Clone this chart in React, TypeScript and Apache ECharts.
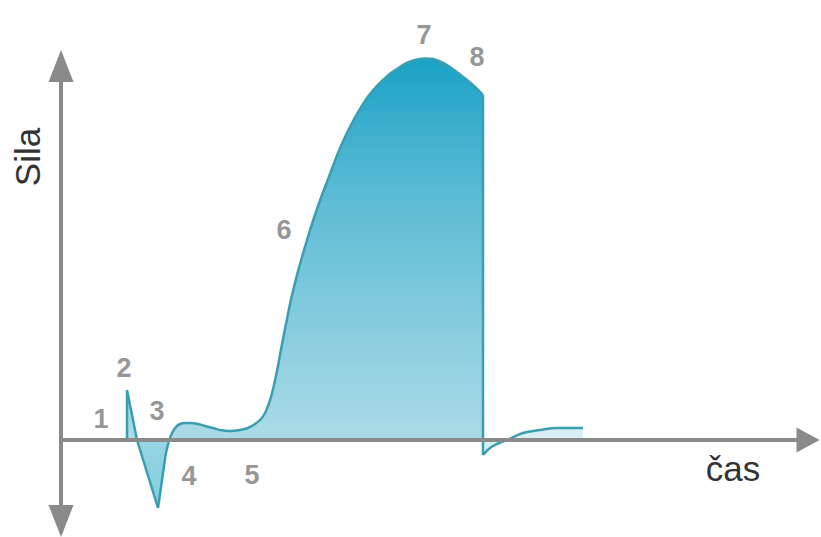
import React, { useEffect, useRef } from "react";
import * as echarts from "echarts";

// Phase curve (time units on x, force units on y; baseline force = 0)
const spikeX = [66, 66, 76, 97];
const spikeY = [0, 50, 0, -68];
const riseX = [97, 99, 101, 103, 105, 108, 111, 115, 119, 124, 129, 137, 144, 152, 159, 169, 179, 187, 194, 200, 204, 207, 210, 213, 216, 219, 222, 226, 229, 232, 236, 241, 246, 251, 256, 261, 266, 272, 277, 284, 291, 299, 306, 314, 322, 330, 339, 347, 356, 364, 372, 380, 389, 397, 406, 414, 422];
const riseY = [-68, -54, -40, -26, -13, -1, 7, 13, 16, 17, 17, 16, 14, 12, 10, 9, 10, 12, 16, 21, 27, 34, 43, 55, 69, 85, 101, 121, 136, 149, 165, 183, 200, 216, 231, 245, 258, 274, 287, 303, 317, 331, 342, 352, 360, 367, 373, 377.5, 380.5, 381.5, 381, 378, 373, 367, 360, 353, 345];
const dropX = [422, 422];
const dropY = [345, -15];
const recoveryX = [422, 429, 436, 446, 462, 479, 496, 522];
const recoveryY = [-15, -8, -4, 0, 7, 10, 12, 12];

// Phase number annotations
const phaseLabels = ["1", "2", "3", "4", "5", "6", "7", "8"];
const phaseX = [40, 63, 96, 128, 191, 223, 363, 416];
const phaseY = [21, 72, 29, -36, -35, 210, 405, 383];

const yAxisName = "Sila";
const xAxisName = "čas";

const zip = (xs: number[], ys: number[]) => xs.map((x, i) => [x, ys[i]]);

export default function App() {
  const ref = useRef<HTMLDivElement>(null);
  useEffect(() => {
    if (!ref.current) return;
    const chart = echarts.init(ref.current, null, { renderer: "svg" });
    const lineColor = "#3a9eb0";
    const mainFill = {
      type: "linear",
      x: 0,
      y: 58,
      x2: 0,
      y2: 510,
      global: true,
      colorStops: [
        { offset: 0, color: "#1aa2c6" },
        { offset: 0.3, color: "#5bbbd4" },
        { offset: 0.84, color: "#acdbe7" },
        { offset: 0.85, color: "#98d5e4" },
        { offset: 1, color: "#7fcde0" },
      ],
    };
    const font = "'Liberation Sans', Arial, sans-serif";
    const lineBase = {
      type: "line",
      symbol: "none",
      clip: false,
      lineStyle: { color: lineColor, width: 2.5 },
      z: 3,
    };
    chart.setOption({
      animation: false,
      backgroundColor: "#ffffff",
      grid: { left: 61, right: 13, top: 66, bottom: 16 },
      xAxis: {
        type: "value",
        min: 0,
        max: 747,
        z: 5,
        axisLine: {
          show: true,
          onZero: true,
          symbol: ["none", "triangle"],
          symbolSize: [25, 23],
          lineStyle: { color: "#8a8a8a", width: 4 },
        },
        axisTick: { show: false },
        axisLabel: { show: false },
        splitLine: { show: false },
      },
      yAxis: {
        type: "value",
        min: -81,
        max: 374,
        z: 5,
        axisLine: {
          show: true,
          symbol: ["triangle", "triangle"],
          symbolSize: [25, 32],
          lineStyle: { color: "#8a8a8a", width: 4 },
        },
        axisTick: { show: false },
        axisLabel: { show: false },
        splitLine: { show: false },
      },
      series: [
        {
          ...lineBase,
          data: zip(spikeX, spikeY),
          smooth: false,
          areaStyle: { color: mainFill, opacity: 1 },
        },
        {
          ...lineBase,
          data: zip(riseX, riseY),
          smooth: 0.35,
          areaStyle: { color: mainFill, opacity: 1 },
        },
        {
          ...lineBase,
          data: zip(dropX, dropY),
          smooth: false,
          z: 4,
        },
        {
          ...lineBase,
          data: zip(recoveryX, recoveryY),
          smooth: 0.4,
          areaStyle: { color: "#d8eff5", opacity: 1 },
        },
        {
          type: "scatter",
          data: phaseLabels.map((n, i) => ({ name: n, value: [phaseX[i], phaseY[i]] })),
          symbolSize: 1,
          itemStyle: { color: "rgba(0,0,0,0)" },
          clip: false,
          silent: true,
          z: 6,
          label: {
            show: true,
            position: "inside",
            formatter: (p: any) => p.name,
            color: "#7a7a7a",
            fontSize: 27,
            fontWeight: "bold",
            fontFamily: font,
          },
        },
      ],
      graphic: [
        {
          type: "text",
          x: 27,
          y: 157,
          rotation: Math.PI / 2,
          style: {
            text: yAxisName,
            fontSize: 35,
            fontFamily: font,
            fill: "#333333",
            textAlign: "center",
            textVerticalAlign: "middle",
          },
        },
        {
          type: "text",
          x: 733,
          y: 468,
          style: {
            text: xAxisName,
            fontSize: 35,
            fontFamily: font,
            fill: "#333333",
            textAlign: "center",
            textVerticalAlign: "middle",
          },
        },
      ],
    });
    return () => chart.dispose();
  }, []);
  return (
    <div
      ref={ref}
      style={{ position: "fixed", left: 0, top: 0, width: 821, height: 537, background: "#fff" }}
    />
  );
}
